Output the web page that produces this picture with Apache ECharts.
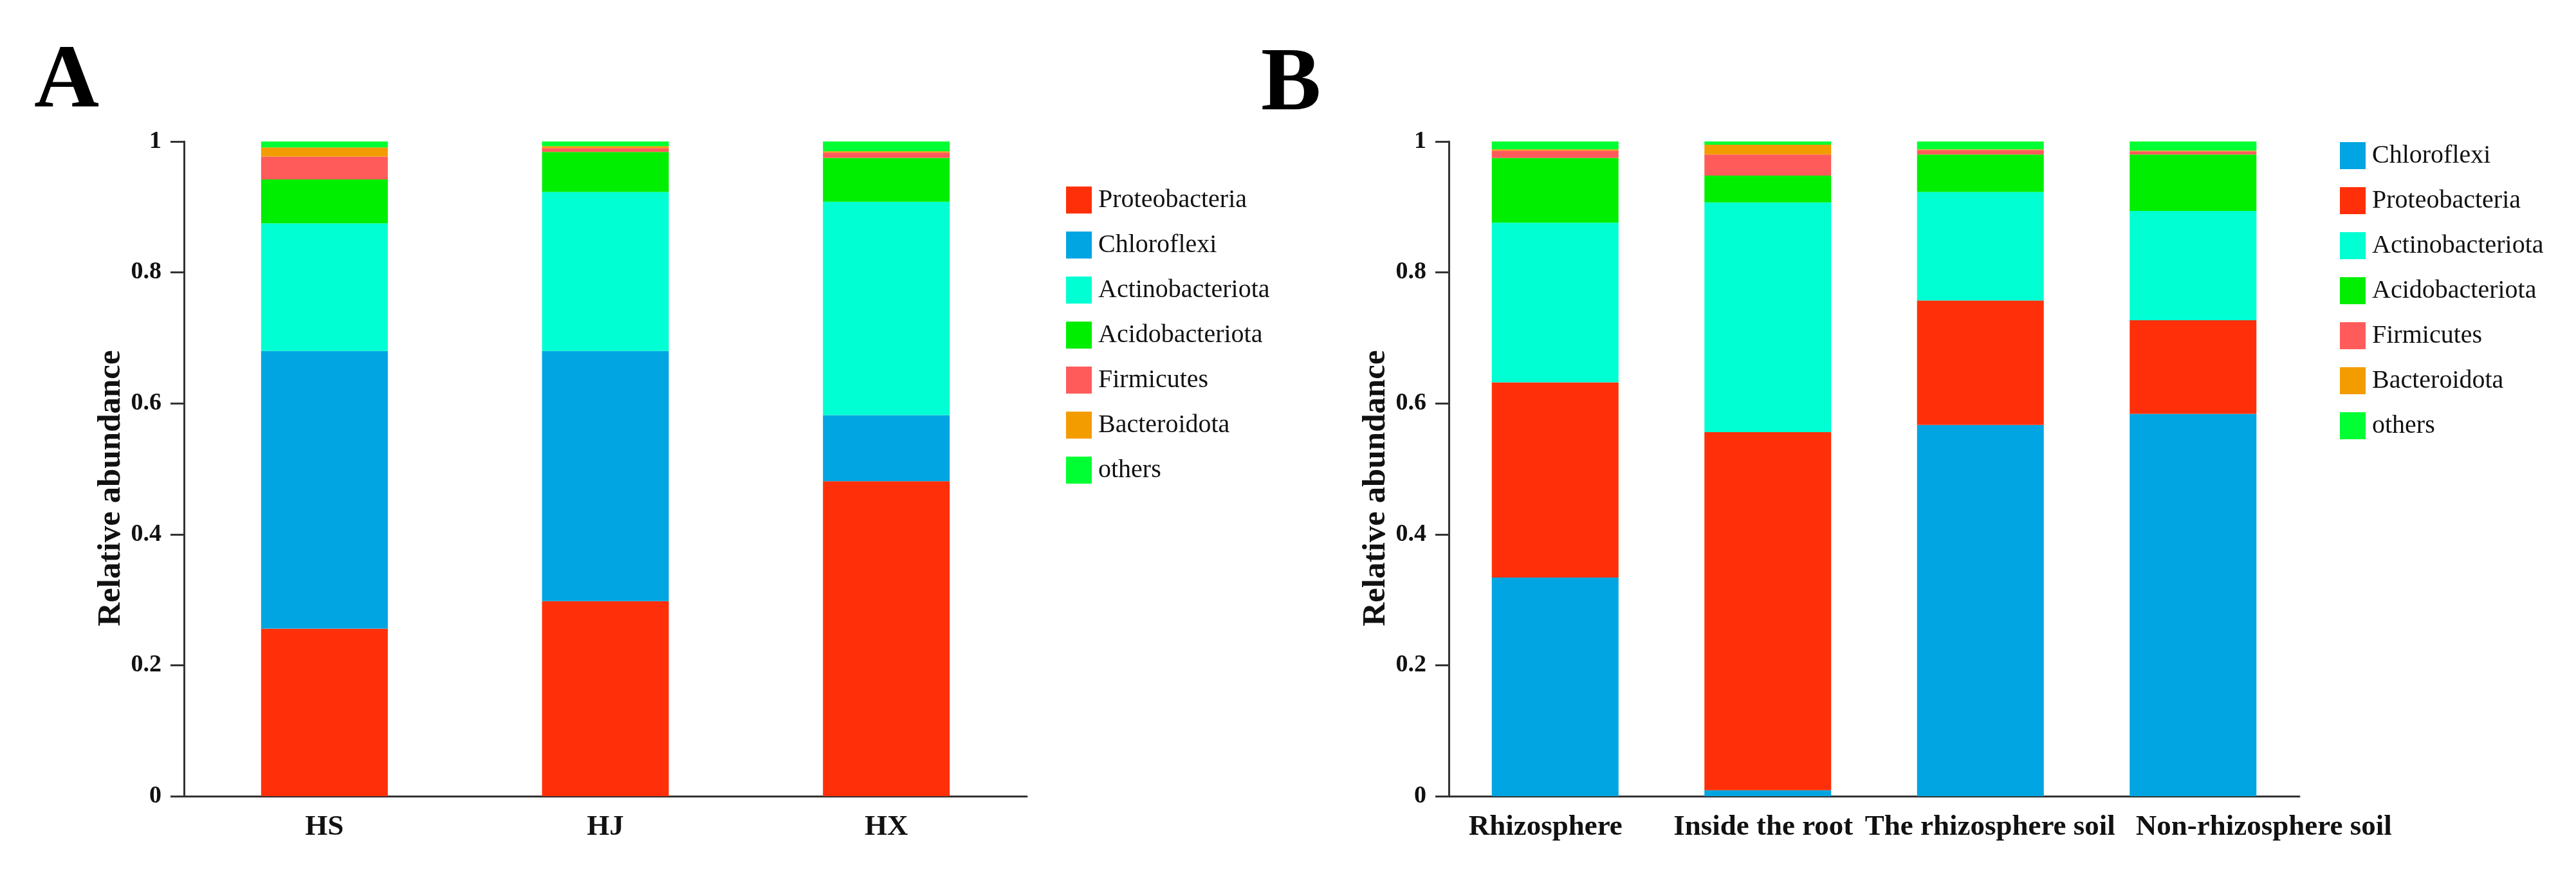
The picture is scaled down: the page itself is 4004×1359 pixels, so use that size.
<!DOCTYPE html>
<html>
<head>
<meta charset="utf-8">
<script src="https://cdn.jsdelivr.net/npm/echarts@6/dist/echarts.min.js"></script>
<style>
html,body{margin:0;padding:0;background:#fff;}
#main{width:4004px;height:1359px;}
</style>
</head>
<body>
<div id="main"></div>
<script>
// ---------- Panel A data ----------
const catsA = ['HS', 'HJ', 'HX'];
const namesA = ['Proteobacteria', 'Chloroflexi', 'Actinobacteriota', 'Acidobacteriota', 'Firmicutes', 'Bacteroidota', 'others'];
const proteoA = [0.256, 0.298, 0.481];
const chloroA = [0.424, 0.382, 0.101];
const actinoA = [0.195, 0.243, 0.326];
const acidoA  = [0.067, 0.061, 0.067];
const firmiA  = [0.035, 0.006, 0.008];
const bacterA = [0.014, 0.003, 0.002];
const othersA = [0.009, 0.007, 0.015];

// ---------- Panel B data ----------
const catsB = ['Rhizosphere', 'Inside the root', 'The rhizosphere soil', 'Non-rhizosphere soil'];
const namesB = ['Chloroflexi', 'Proteobacteria', 'Actinobacteriota', 'Acidobacteriota', 'Firmicutes', 'Bacteroidota', 'others'];
const chloroB = [0.334, 0.009, 0.567, 0.584];
const proteoB = [0.298, 0.547, 0.190, 0.143];
const actinoB = [0.244, 0.351, 0.166, 0.167];
const acidoB  = [0.099, 0.041, 0.057, 0.086];
const firmiB  = [0.011, 0.032, 0.007, 0.005];
const bacterB = [0.002, 0.015, 0.001, 0.001];
const othersB = [0.012, 0.005, 0.012, 0.014];

const yTicks = [0, 0.2, 0.4, 0.6, 0.8, 1];

const colors = {
  'Proteobacteria': '#FF3009',
  'Chloroflexi': '#00A5E1',
  'Actinobacteriota': '#00FFD2',
  'Acidobacteriota': '#00EE00',
  'Firmicutes': '#FF5B5B',
  'Bacteroidota': '#F39C00',
  'others': '#00FF33'
};

const dataA = [proteoA, chloroA, actinoA, acidoA, firmiA, bacterA, othersA];
const dataB = [chloroB, proteoB, actinoB, acidoB, firmiB, bacterB, othersB];

// horizontal nudges of the panel B category labels (label padding, px) so they do not collide
const labelPadB = [[0, 30, 0, 0], [0, 14, 0, 0], [0, 0, 0, 30], [0, 0, 0, 220]];

const FONT = '"Liberation Serif", "Times New Roman", serif';
const INK = '#111';

function xAxisCfg(cats, gi, pads) {
  const data = cats.map(function (c, i) {
    return pads ? {value: c, textStyle: {padding: pads[i]}} : c;
  });
  return {
    type: 'category', gridIndex: gi, data: data,
    axisLine: {lineStyle: {color: '#333', width: 3}},
    axisTick: {alignWithLabel: true, length: 20, lineStyle: {color: '#333', width: 3}},
    axisLabel: {fontFamily: FONT, fontWeight: 'bold', fontSize: 45, color: INK, margin: 26, interval: 0}
  };
}
function yAxisCfg(gi) {
  return {
    type: 'value', gridIndex: gi, min: 0, max: 1, interval: 0.2,
    name: 'Relative abundance', nameLocation: 'middle', nameGap: 88,
    nameTextStyle: {fontFamily: FONT, fontWeight: 'bold', fontSize: 51, color: INK, padding: [0, 60, 0, 0]},
    axisLine: {show: true, lineStyle: {color: '#333', width: 3}},
    axisTick: {show: true, length: 21, lineStyle: {color: '#333', width: 3}},
    splitLine: {show: false},
    axisLabel: {fontFamily: FONT, fontWeight: 'bold', fontSize: 38, color: INK, margin: 35,
      formatter: function (v) { const r = Math.round(v * 10) / 10; return yTicks.indexOf(r) >= 0 ? String(r) : ''; }}
  };
}

const series = [];
namesA.forEach(function (n, i) {
  series.push({
    name: n, type: 'bar', stack: 'A', xAxisIndex: 0, yAxisIndex: 0,
    barWidth: 197, data: dataA[i], itemStyle: {color: colors[n]}, emphasis: {disabled: true}
  });
});
namesB.forEach(function (n, i) {
  series.push({
    name: n, type: 'bar', stack: 'B', xAxisIndex: 1, yAxisIndex: 1,
    barWidth: 197, data: dataB[i], itemStyle: {color: colors[n]}, emphasis: {disabled: true}
  });
});

function legendCfg(names, left, top) {
  return {
    data: names, orient: 'vertical', left: left, top: top,
    icon: 'rect', itemWidth: 40, itemHeight: 42, itemGap: 28,
    selectedMode: false,
    textStyle: {fontFamily: FONT, fontSize: 40, color: INK, padding: [0, 0, 0, 5]}
  };
}

const option = {
  backgroundColor: '#fff',
  animation: false,
  grid: [
    {left: 286, top: 220, width: 1310, height: 1018},
    {left: 2252, top: 220, width: 1322, height: 1018}
  ],
  xAxis: [xAxisCfg(catsA, 0, null), xAxisCfg(catsB, 1, labelPadB)],
  yAxis: [yAxisCfg(0), yAxisCfg(1)],
  legend: [legendCfg(namesA, 1652, 285), legendCfg(namesB, 3632, 216)],
  graphic: [
    {type: 'text', left: 53, top: 60, style: {text: 'A', font: 'bold 140px ' + FONT, fill: '#000'}},
    {type: 'text', left: 1960, top: 64, style: {text: 'B', font: 'bold 140px ' + FONT, fill: '#000'}}
  ],
  series: series
};

const chart = echarts.init(document.getElementById('main'));
chart.setOption(option);
</script>
</body>
</html>
